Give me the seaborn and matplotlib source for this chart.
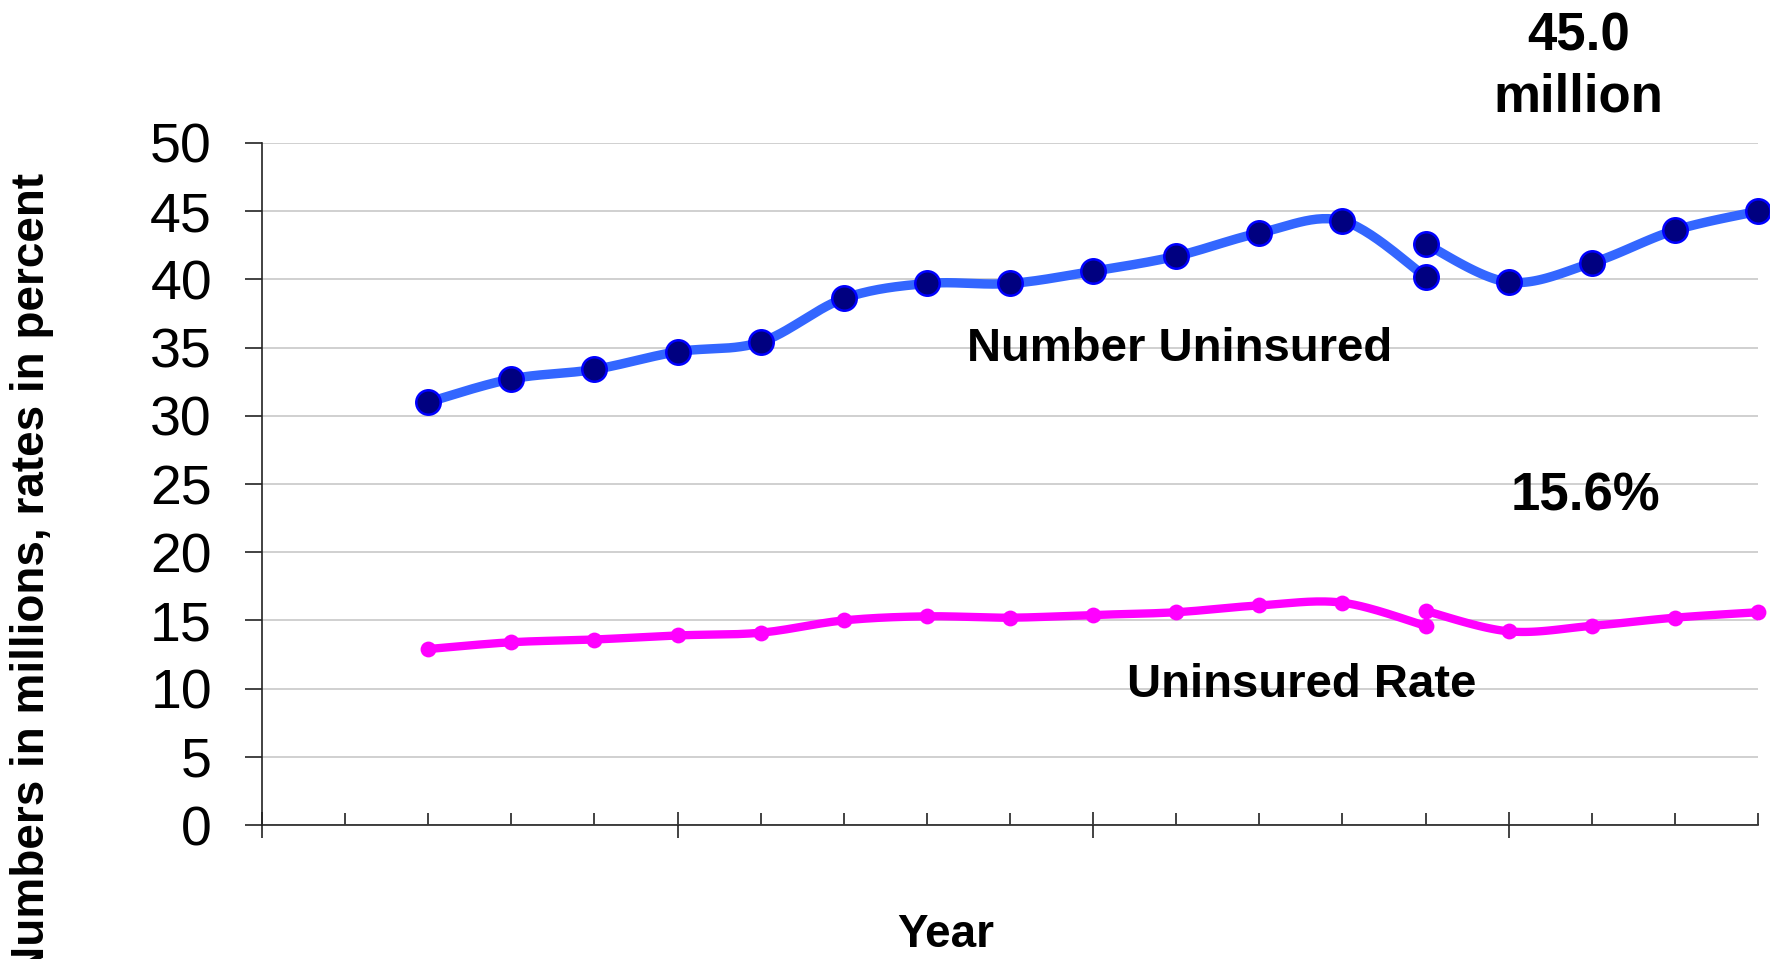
import numpy as np
import pandas as pd
import matplotlib
matplotlib.use("Agg")
import matplotlib.pyplot as plt
from matplotlib.ticker import MultipleLocator
import seaborn as sns

# Uninsured population (millions) and rate (percent), two estimate series
years_old = [1987, 1988, 1989, 1990, 1991, 1992, 1993, 1994, 1995, 1996, 1997, 1998, 1999]
number_old = [31.0, 32.7, 33.4, 34.7, 35.4, 38.6, 39.7, 39.7, 40.6, 41.7, 43.4, 44.3, 40.2]
rate_old = [12.9, 13.4, 13.6, 13.9, 14.1, 15.0, 15.3, 15.2, 15.4, 15.6, 16.1, 16.3, 14.6]

years_new = [1999, 2000, 2001, 2002, 2003]
number_new = [42.6, 39.8, 41.2, 43.6, 45.0]
rate_new = [15.7, 14.2, 14.6, 15.2, 15.6]

y_ticks = [0, 5, 10, 15, 20, 25, 30, 35, 40, 45, 50]

sns.set_style("white")
plt.rcParams["font.family"] = ["Liberation Sans", "DejaVu Sans"]
plt.rcParams["text.color"] = "black"
plt.rcParams["ytick.color"] = "black"
plt.rcParams["xtick.color"] = "black"

BLUE = "#3366ff"
NAVY = "#000080"
MAGENTA = "#ff00ff"


def smooth(xs, ys, steps=30):
    """Bezier smoothing through the points (Catmull-Rom style control points)."""
    p = np.column_stack([xs, ys]).astype(float)
    n = len(p)
    out = [p[0]]
    t = np.linspace(0, 1, steps)[1:, None]
    for i in range(n - 1):
        p_prev = p[i - 1] if i > 0 else p[i]
        p_next = p[i + 2] if i + 2 < n else p[i + 1]
        c1 = p[i] + (p[i + 1] - p_prev) / 6.0
        c2 = p[i + 1] - (p_next - p[i]) / 6.0
        seg = ((1 - t) ** 3) * p[i] + 3 * ((1 - t) ** 2) * t * c1 \
            + 3 * (1 - t) * t ** 2 * c2 + t ** 3 * p[i + 1]
        out.extend(seg)
    out = np.array(out)
    return pd.DataFrame({"x": out[:, 0], "y": out[:, 1]})


fig = plt.figure(figsize=(17.7, 9.59), dpi=100)
ax = fig.add_axes([0.148, 0.1397, 0.8452, 0.7112])

for xs, ys in [(years_old, number_old), (years_new, number_new)]:
    curve = smooth(xs, ys)
    ax.plot(curve["x"], curve["y"], color=BLUE, linewidth=6.8,
            solid_capstyle="round", solid_joinstyle="round", zorder=3)
    sns.scatterplot(x=xs, y=ys, ax=ax, color=NAVY, edgecolor="#0000ff",
                    linewidth=1.8, s=310, zorder=4, clip_on=False)

for xs, ys in [(years_old, rate_old), (years_new, rate_new)]:
    curve = smooth(xs, ys)
    ax.plot(curve["x"], curve["y"], color=MAGENTA, linewidth=6.0,
            solid_capstyle="round", solid_joinstyle="round", zorder=3)
    sns.scatterplot(x=xs, y=ys, ax=ax, color=MAGENTA, edgecolor=MAGENTA,
                    linewidth=0, s=130, zorder=4, clip_on=False)

ax.set_xlim(1985, 2003)
ax.set_ylim(0, 50)
ax.set_yticks(y_ticks)
ax.set_xlabel("")
ax.set_ylabel("")

ax.yaxis.grid(True, color="#c4c4c4", linewidth=1.1)
ax.xaxis.grid(False)
ax.set_axisbelow(True)

for side in ["top", "right"]:
    ax.spines[side].set_visible(False)
for side in ["left", "bottom"]:
    ax.spines[side].set_color("#222222")
    ax.spines[side].set_linewidth(1.2)

ax.tick_params(axis="y", direction="out", length=12, width=1.2, color="#222222",
               pad=24, labelsize=40, labelcolor="black", left=True)
ax.xaxis.set_major_locator(MultipleLocator(5))
ax.xaxis.set_minor_locator(MultipleLocator(1))
ax.tick_params(axis="x", which="major", direction="inout", length=19, width=1.2,
               color="#222222", labelbottom=False, bottom=True)
ax.tick_params(axis="x", which="minor", direction="in", length=9, width=1.2,
               color="#222222", bottom=True)

ax.text(1996.04, 34.9, "Number Uninsured", ha="center", va="center",
        fontsize=34, fontweight="bold", color="black")
ax.text(1997.51, 10.26, "Uninsured Rate", ha="center", va="center",
        fontsize=34, fontweight="bold", color="black")
ax.text(years_new[-1] - 2.16, 55.6, f"{number_new[-1]:.1f}\nmillion",
        ha="center", va="center", fontsize=38, fontweight="bold",
        linespacing=1.28, clip_on=False, color="black")
ax.text(years_new[-1] - 2.08, 24.05, f"{rate_new[-1]:.1f}%",
        ha="center", va="center", fontsize=38, fontweight="bold", color="black")

fig.text(0.5345, 0.025, "Year", ha="center", va="center",
         fontsize=33, fontweight="bold", color="black")
fig.text(0.018, 0.399, "Numbers in millions, rates in percent", rotation=90,
         ha="center", va="center", fontsize=33, fontweight="bold", color="black")

fig.savefig("out.png", dpi=100, facecolor="white")
